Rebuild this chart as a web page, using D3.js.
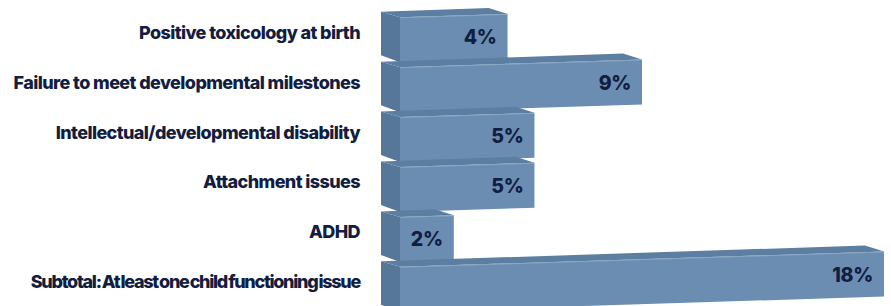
<!DOCTYPE html>
<html>
<head>
<meta charset="utf-8">
<script src="https://cdn.jsdelivr.net/npm/d3@7"></script>
<style>
  body { margin: 0; background: #fff; }
  svg { display: block; }
  .lbl { font-family: Inter, "Noto Sans", sans-serif; font-weight: 800; fill: #121d3f; }
</style>
</head>
<body>
<svg id="chart" width="891" height="306"></svg>
<script>
// datos del gráfico
const categories = [
  "Positive toxicology at birth",
  "Failure to meet developmental milestones",
  "Intellectual/developmental disability",
  "Attachment issues",
  "ADHD",
  "Subtotal: At least one child functioning issue"
];
const values = [4, 9, 5, 5, 2, 18];
const valueLabels = ["4%", "9%", "5%", "5%", "2%", "18%"];

const svg = d3.select("#chart");

// escalas
const x = d3.scaleLinear().domain([0, 18]).range([400, 884]);
const y = d3.scaleBand().domain(categories).range([17.3, 311.8]).paddingInner(0.098).paddingOuter(0);

const slope = -0.0315;       // inclinación de la perspectiva
const dx = -19, dy = -6;     // profundidad de la caja
const h = y.bandwidth();

const skew = px => slope * (px - x(0));

const colFront = "#6a8db1", colSide = "#56779a", colTop = "#5c7ea1";

categories.forEach(function (c, i) {
  const x0 = x(0), x1 = x(values[i]);
  const t0 = y(c), t1 = y(c) + skew(x1);
  const g = svg.append("g");

  // cara lateral izquierda
  g.append("path")
    .attr("d", `M${x0},${t0} L${x0},${t0 + h} L${x0 + dx},${t0 + h + dy - 1} L${x0 + dx},${t0 + dy + 0.5} Z`)
    .attr("fill", colSide);

  // cara superior
  g.append("path")
    .attr("d", `M${x0},${t0} L${x1},${t1} L${x1 + dx},${t1 + dy} L${x0 + dx},${t0 + dy + 0.5} Z`)
    .attr("fill", colTop);

  // cara frontal
  g.append("path")
    .attr("d", `M${x0},${t0} L${x1},${t1} L${x1},${t1 + h} L${x0},${t0 + h} Z`)
    .attr("fill", colFront);

  // brillo en el borde superior
  g.append("path")
    .attr("d", `M${x0},${t0 + 0.5} L${x1},${t1 + 0.5}`)
    .attr("stroke", "#8eabc8").attr("stroke-width", 0.8).attr("fill", "none");

  // etiqueta de categoría
  svg.append("text")
    .attr("class", "lbl")
    .attr("x", 360)
    .attr("y", y(c) + 21.5)
    .attr("text-anchor", "end")
    .attr("font-size", 18)
    .attr("letter-spacing", i == 5 ? -1.3 : -0.6)
    .attr("word-spacing", i == 5 ? -1.5 : 0)
    .text(c);

  // etiqueta de valor
  const lx = x1 - 11;
  svg.append("text")
    .attr("class", "lbl")
    .attr("x", lx)
    .attr("y", y(c) + h / 2 + skew(lx - 16))
    .attr("dy", "0.36em")
    .attr("text-anchor", "end")
    .attr("font-size", 19.5)
    .attr("letter-spacing", -0.3)
    .text(valueLabels[i]);
});
</script>
</body>
</html>
